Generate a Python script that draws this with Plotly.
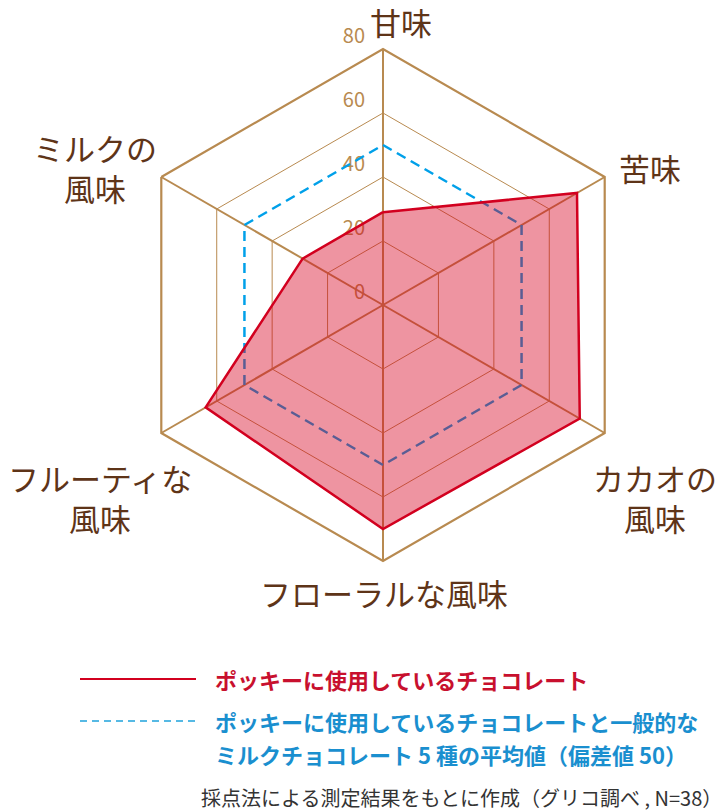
import plotly.graph_objects as go

font_family = 'Noto Sans CJK JP'

# axes (clockwise from top)
categories = ['甘味', '苦味', 'カカオの風味', 'フローラルな風味',
              'フルーティな風味', 'ミルクの風味']
# labels as printed around the chart
label_text = ['甘味', '苦味', 'カカオの<br>風味', 'フローラルな風味',
              'フルーティな<br>風味', 'ミルクの<br>風味']
# Pocky chocolate scores
pocky = [29, 70, 71, 70, 64, 29]
# average of 5 milk chocolates (deviation value 50)
average = [50, 50, 50, 50, 50, 50]
radial_ticks = [0, 20, 40, 60, 80]

grid_c = '#b88a50'
brown = '#5e3418'
red = '#d2001f'
blue = '#00a0e9'

W, H = 725, 810
OFF = 8  # page body margin
cx, cy, R = 383, 305, 256


def px(x):
    return (x - OFF) / W


def py_(y):
    return 1 - (y - OFF) / H


theta = categories + categories[:1]

trace_avg = go.Scatterpolar(
    r=average + average[:1],
    theta=theta,
    mode='lines',
    line=dict(color=blue, width=2.5, dash='10px,6px'),
    hoverinfo='skip',
)
trace_pocky = go.Scatterpolar(
    r=pocky + pocky[:1],
    theta=theta,
    mode='lines',
    fill='toself',
    fillcolor='rgba(215,0,31,0.42)',
    line=dict(color=red, width=2.5),
)

fig = go.Figure(data=[trace_avg, trace_pocky])

fig.update_layout(
    width=W, height=H,
    margin=dict(l=0, r=0, t=0, b=0),
    paper_bgcolor='white',
    font=dict(family=font_family, color=brown),
    showlegend=False,
    polar=dict(
        domain=dict(x=[px(cx - R), px(cx + R)], y=[py_(cy + R), py_(cy - R)]),
        gridshape='linear',
        bgcolor='white',
        radialaxis=dict(
            range=[0, 80],
            tickvals=radial_ticks,
            # empty second line lifts each number just above its ring
            ticktext=['%d<br> ' % v for v in radial_ticks],
            angle=90,
            tickangle=90,
            side='counterclockwise',
            layer='below traces',
            showline=True,
            linecolor=grid_c,
            linewidth=2,
            gridcolor=grid_c,
            gridwidth=1.3,
            ticks='outside',
            ticklen=10,
            tickcolor='rgba(0,0,0,0)',
            tickfont=dict(size=20, color=grid_c),
        ),
        angularaxis=dict(
            direction='clockwise',
            rotation=90,
            layer='below traces',
            showline=True,
            linecolor=grid_c,
            linewidth=2.2,
            gridcolor=grid_c,
            gridwidth=2,
            ticks='',
            showticklabels=False,
        ),
    ),
)

# category labels, centred lines like the original artwork
label_pos = [(401, 22), (650, 167), (655, 497), (384, 592),
             (100, 497), (95, 167)]
for txt, (lx, ly) in zip(label_text, label_pos):
    fig.add_annotation(xref='paper', yref='paper', x=px(lx), y=py_(ly),
                       xanchor='center', yanchor='middle', showarrow=False,
                       align='center', text=txt,
                       font=dict(size=31, color=brown))

# legend drawn by hand
fig.add_shape(type='line', xref='paper', yref='paper',
              x0=px(80), x1=px(196), y0=py_(679), y1=py_(679),
              line=dict(color=red, width=2))
fig.add_shape(type='line', xref='paper', yref='paper',
              x0=px(80), x1=px(196), y0=py_(721), y1=py_(721),
              line=dict(color='#1fa2dc', width=1.5, dash='7px,5px'))
fig.add_annotation(xref='paper', yref='paper', x=px(213), y=py_(679),
                   xanchor='left', yanchor='middle', showarrow=False,
                   text='ポッキーに使用しているチョコレート',
                   font=dict(size=22, color='#c8102e', weight='bold'))
fig.add_annotation(xref='paper', yref='paper', x=px(213), y=py_(721),
                   xanchor='left', yanchor='middle', showarrow=False,
                   text='ポッキーに使用しているチョコレートと一般的な',
                   font=dict(size=22, color='#1a8fcf', weight='bold'))
fig.add_annotation(xref='paper', yref='paper', x=px(213), y=py_(754),
                   xanchor='left', yanchor='middle', showarrow=False,
                   text='ミルクチョコレート 5 種の平均値（偏差値 50）',
                   font=dict(size=22, color='#1a8fcf', weight='bold'))
fig.add_annotation(xref='paper', yref='paper', x=px(724), y=py_(797),
                   xanchor='right', yanchor='middle', showarrow=False,
                   text='採点法による測定結果をもとに作成（グリコ調べ , N=38）',
                   font=dict(size=20, color='#333333'))

fig.write_html("out.html")
